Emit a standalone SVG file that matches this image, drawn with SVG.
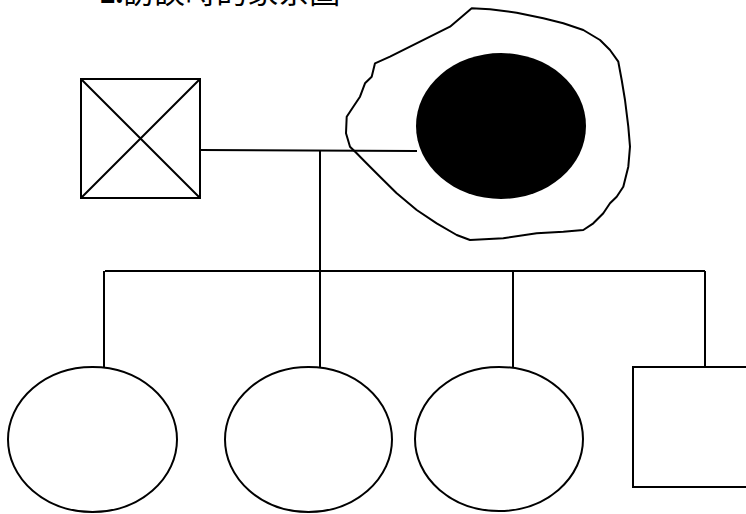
<svg xmlns="http://www.w3.org/2000/svg" width="746" height="514" viewBox="0 0 746 514">
<style>
.s{fill:none;stroke:#000;stroke-width:2}
.w{fill:#fff;stroke:#000;stroke-width:2}
.t{font-family:"Liberation Serif","Noto Sans CJK TC",serif;font-size:31px;fill:#000}
</style>
<rect width="746" height="514" fill="#fff"/>
<text class="t" x="100" y="3"><tspan font-weight="bold">2.</tspan>訪談時的家系圖</text>
<g id="connectors">
<path class="s" d="M200,150 L417,151"/>
<path class="s" d="M320,151 V271"/>
<path class="s" d="M105,271 H705"/>
<path class="s" d="M104,271 V367"/>
<path class="s" d="M320,271 V367"/>
<path class="s" d="M513,271 V367"/>
<path class="s" d="M705,271 V367"/>
</g>
<g id="father">
<rect class="w" x="81" y="79" width="119" height="119"/>
<path class="s" d="M81,79 L200,198 M200,79 L81,198"/>
</g>
<g id="mother">
<path class="s" d="M471.7,8.3 L490,9.3 L516.7,12.7 L543.3,18.3 L563.3,23.3 L583.3,30 L600,40 L610,50 L618.3,61.7 L621.7,80 L625,100 L628.3,126.7 L630,146.7 L628.3,166.7 L623.3,186.7 L616.7,196.7 L610,203.3 L603.3,213.3 L593.3,223.3 L583.3,230 L563.3,231.7 L536.7,233.3 L503.3,238.3 L470,240 L456.7,235 L436.7,223.3 L416.7,210 L396.7,193.3 L380,176.7 L370,166.7 L363.3,160 L356.7,153.3 L350,146.7 L346,133.3 L346.7,116.7 L353.3,106.7 L360,96.7 L365,83.3 L371.7,76.7 L375,63.3 L390,56.7 L410,46.7 L430,36.7 L450,26.7 L460,18.3 Z" stroke-linejoin="round"/>
<ellipse cx="501" cy="126" rx="85" ry="73" fill="#000"/>
</g>
<g id="child1"><ellipse class="w" cx="92.5" cy="439.5" rx="84.5" ry="72.5"/></g>
<g id="child2"><ellipse class="w" cx="308.5" cy="439.5" rx="83.5" ry="72.5"/></g>
<g id="child3"><ellipse class="w" cx="499" cy="439" rx="84" ry="72"/></g>
<g id="child4"><rect class="w" x="633" y="367" width="120" height="120"/></g>
</svg>
